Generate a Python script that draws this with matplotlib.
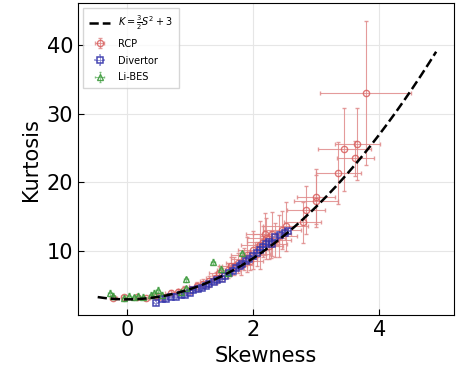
import numpy as np
import matplotlib
matplotlib.use("Agg")
import matplotlib.pyplot as plt

# RCP (red circles): skewness, kurtosis, errors
rcp_s = [-0.22, -0.05, 0.15, 0.30, 0.45, 0.55, 0.70, 0.80, 0.90, 1.00, 1.10, 1.20,
         1.30, 1.40, 1.50, 1.60, 1.70, 1.75, 1.85, 1.90, 1.95, 2.00, 2.05, 2.10,
         2.15, 2.20, 2.25, 2.30, 2.35, 2.40, 2.45, 2.51, 2.78, 2.84, 2.99, 3.00,
         3.35, 3.62, 3.44, 3.65, 3.78, 1.45, 1.65, 1.80, 2.18, 2.28]
rcp_k = [3.2, 3.4, 3.3, 3.2, 3.5, 3.4, 3.9, 4.1, 4.4, 4.3, 4.9, 5.3,
         5.6, 6.1, 6.6, 7.2, 7.8, 8.3, 8.9, 9.5, 8.6, 10.2, 9.6, 10.9,
         11.4, 11.9, 10.7, 12.5, 11.6, 12.2, 13.1, 13.6, 14.2, 16.0, 17.3, 17.9,
         21.4, 23.5, 24.8, 25.6, 33.0, 6.9, 7.9, 8.0, 12.5, 11.0]
rcp_serr = [0.05, 0.05, 0.05, 0.06, 0.08, 0.08, 0.1, 0.1, 0.1, 0.12, 0.12, 0.12,
            0.15, 0.15, 0.15, 0.18, 0.2, 0.18, 0.2, 0.25, 0.2, 0.25, 0.22, 0.3,
            0.25, 0.3, 0.22, 0.3, 0.25, 0.3, 0.3, 0.35, 0.3, 0.3, 0.35, 0.3,
            0.36, 0.3, 0.42, 0.36, 0.72, 0.15, 0.2, 0.2, 0.3, 0.25]
rcp_kerr = [0.2, 0.2, 0.2, 0.2, 0.3, 0.3, 0.4, 0.4, 0.5, 0.5, 0.6, 0.7,
            0.8, 0.9, 1.0, 1.1, 1.3, 1.5, 1.6, 2.5, 1.4, 2.8, 1.8, 3.5,
            2.2, 3.0, 1.8, 3.2, 2.5, 3.0, 2.8, 3.5, 3.0, 3.5, 3.8, 4.0,
            4.5, 2.5, 6.0, 5.2, 10.5, 0.9, 1.2, 1.4, 3.0, 2.0]

# Divertor (blue squares)
div_s = [0.45, 0.55, 0.62, 0.70, 0.78, 0.85, 0.92, 1.00, 1.05, 1.12, 1.18, 1.25,
         1.30, 1.37, 1.42, 1.50, 1.55, 1.62, 1.68, 1.72, 1.78, 1.82, 1.88, 1.93,
         2.00, 2.05, 2.10, 2.15, 2.20, 2.25, 2.30, 2.35, 2.42, 2.50, 2.55]
div_k = [2.5, 3.0, 3.1, 3.3, 3.4, 3.6, 3.7, 3.9, 4.3, 4.5, 4.6, 4.9,
         5.2, 5.5, 5.8, 6.0, 6.4, 6.8, 7.1, 7.5, 7.8, 8.2, 8.6, 8.9,
         9.3, 9.8, 10.2, 10.6, 11.0, 11.3, 11.0, 12.0, 12.3, 12.6, 13.0]

# Li-BES (green triangles)
bes_s = [-0.27, -0.22, -0.05, 0.02, 0.10, 0.17, 0.25, 0.38, 0.42, 0.48, 0.55,
         0.85, 0.93, 0.93, 1.36, 1.48, 1.60, 1.82]
bes_k = [3.9, 3.5, 3.2, 3.5, 3.3, 3.5, 3.4, 3.7, 3.9, 4.4, 3.6,
         4.0, 4.6, 5.9, 8.5, 7.4, 6.9, 9.7]

fig = plt.figure(figsize=(4.57, 3.77), dpi=100)
ax = fig.add_axes([0.171, 0.164, 0.822, 0.828])

s_fit = np.linspace(-0.47, 4.9, 200)
ax.plot(s_fit, 1.5 * s_fit**2 + 3, '--', color='black', lw=1.8, zorder=5,
        label=r'$K=\frac{3}{2}S^2+3$')

ax.errorbar(rcp_s, rcp_k, xerr=rcp_serr, yerr=rcp_kerr, fmt='o', ms=4.5,
            mfc='none', mec='#d9605f', mew=1.0, ecolor='#e08a8a', elinewidth=0.8,
            capsize=1.5, alpha=0.85, label='RCP', zorder=3)
ax.errorbar(div_s, div_k, xerr=0.03, yerr=0.3, fmt='s', ms=4.5,
            mfc='none', mec='#3333aa', mew=1.1, ecolor='#8080cc', elinewidth=0.6,
            capsize=1, alpha=0.9, label='Divertor', zorder=4)
ax.errorbar(bes_s, bes_k, xerr=0.03, yerr=0.4, fmt='^', ms=4.5,
            mfc='none', mec='#3d9a3d', mew=1.0, ecolor='#6fb86f', elinewidth=0.6,
            capsize=1, alpha=0.9, label='Li-BES', zorder=4)

ax.set_xlim(-0.78, 5.18)
ax.set_ylim(0.7, 46.1)
ax.set_xticks([0, 2, 4])
ax.set_yticks([10, 20, 30, 40])
ax.grid(True, color='#e6e6e6', lw=0.8)
ax.set_axisbelow(True)
ax.tick_params(direction='in', labelsize=15, length=4)
ax.set_xlabel('Skewness', fontsize=15)
ax.set_ylabel('Kurtosis', fontsize=15)

ax.legend(loc='upper left', fontsize=7, frameon=True, edgecolor='#cccccc',
          fancybox=False, handlelength=2.2, borderpad=0.6, labelspacing=0.7)

fig.savefig('out.png', dpi=100)
